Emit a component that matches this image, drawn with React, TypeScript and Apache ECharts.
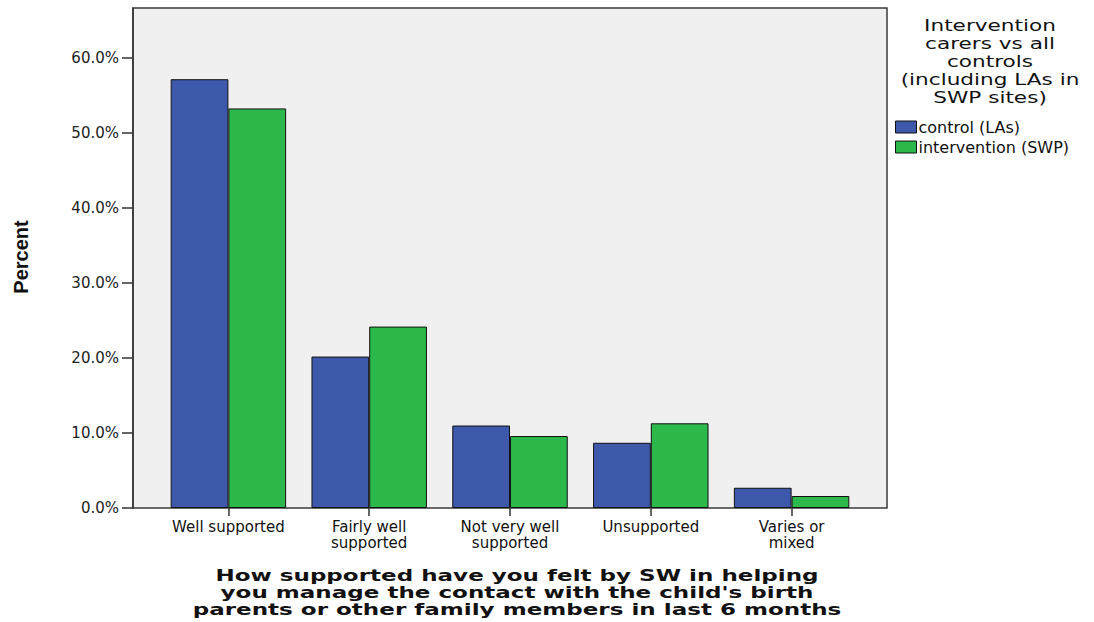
import React, { useEffect, useRef } from "react";
import * as echarts from "echarts";

const categories = [
  "Well supported",
  "Fairly well\nsupported",
  "Not very well\nsupported",
  "Unsupported",
  "Varies or\nmixed",
];
const controlValues = [57.2, 20.2, 11.0, 8.7, 2.7];
const interventionValues = [53.3, 24.2, 9.6, 11.3, 1.6];
const seriesNames = ["control (LAs)", "intervention (SWP)"];
const yTicks = [0, 10, 20, 30, 40, 50, 60];
const legendTitle = ["Intervention", "carers vs all", "controls", "(including LAs in", "SWP sites)"];
const xTitle = [
  "How supported have you felt by SW in helping",
  "you manage the contact with the child's birth",
  "parents or other family members in last 6 months",
];
const yTitle = "Percent";

export default function App() {
  const ref = useRef<HTMLDivElement>(null);
  useEffect(() => {
    document.body.style.margin = "0";
    const chart = echarts.init(ref.current!, null, { renderer: "svg" });
    const font = "DejaVu Sans, Verdana, sans-serif";
    chart.setOption({
      animation: false,
      backgroundColor: "#ffffff",
      color: ["#3E58AC", "#2DB84B"],
      grid: { left: 158, right: 232, top: 8, bottom: 114, containLabel: false },
      legend: {
        orient: "vertical",
        left: 890,
        top: 114,
        itemWidth: 21,
        itemHeight: 12,
        itemGap: 4,
        icon: "rect",
        textStyle: {
          color: "#111",
          fontSize: 16,
          lineHeight: 12,
          fontFamily: font,
          padding: [0, 0, 0, -3],
        },
        itemStyle: { borderColor: "#111", borderWidth: 1 },
        data: seriesNames,
      },
      graphic: [
        {
          type: "rect",
          z: -10,
          shape: { x: 133, y: 8, width: 754, height: 500 },
          style: { fill: "#F0F0F0", stroke: "#3a3a3a", lineWidth: 1.5 },
          silent: true,
        },
        {
          type: "text",
          x: 990,
          y: 16,
          scaleX: 1.35,
          style: {
            text: legendTitle.join("\n"),
            fontSize: 16,
            lineHeight: 18,
            fontFamily: font,
            fill: "#111",
            align: "center",
            verticalAlign: "top",
          },
        },
        {
          type: "text",
          x: 517,
          y: 567,
          scaleX: 1.44,
          style: {
            text: xTitle.join("\n"),
            fontSize: 16,
            fontWeight: "bold",
            lineHeight: 17,
            fontFamily: font,
            fill: "#111",
            align: "center",
            verticalAlign: "top",
          },
        },
        {
          type: "text",
          x: 11,
          y: 257,
          rotation: Math.PI / 2,
          style: {
            text: yTitle,
            fontSize: 20,
            fontWeight: "bold",
            fontFamily: "Liberation Sans, Arial, sans-serif",
            fill: "#111",
            align: "center",
            verticalAlign: "top",
          },
        },
      ],
      xAxis: {
        type: "category",
        data: categories,
        axisLine: { show: false },
        axisTick: { show: true, alignWithLabel: true, length: 8, lineStyle: { color: "#333", width: 1.5 } },
        axisLabel: {
          color: "#111",
          fontSize: 15,
          fontFamily: font,
          lineHeight: 16,
          margin: 11,
          interval: 0,
        },
        splitLine: { show: false },
      },
      yAxis: {
        type: "value",
        min: 0,
        max: 66.7,
        interval: 10,
        offset: 25,
        axisLine: { show: true, lineStyle: { color: "#333", width: 1.5 } },
        axisTick: {
          show: true,
          length: 11,
          customValues: yTicks,
          lineStyle: { color: "#333", width: 1.5 },
        },
        axisLabel: {
          color: "#222",
          fontSize: 15,
          fontFamily: font,
          margin: 14,
          customValues: yTicks,
          formatter: (v: number) => v.toFixed(1) + "%",
        },
        splitLine: { show: false },
      },
      series: [
        {
          name: seriesNames[0],
          type: "bar",
          data: controlValues,
          barGap: "0%",
          barCategoryGap: "18%",
          itemStyle: { borderColor: "#111", borderWidth: 1 },
        },
        {
          name: seriesNames[1],
          type: "bar",
          data: interventionValues,
          barGap: "0%",
          barCategoryGap: "18%",
          itemStyle: { borderColor: "#111", borderWidth: 1 },
        },
      ],
    });
    return () => chart.dispose();
  }, []);
  return <div ref={ref} style={{ width: 1094, height: 622 }} />;
}
